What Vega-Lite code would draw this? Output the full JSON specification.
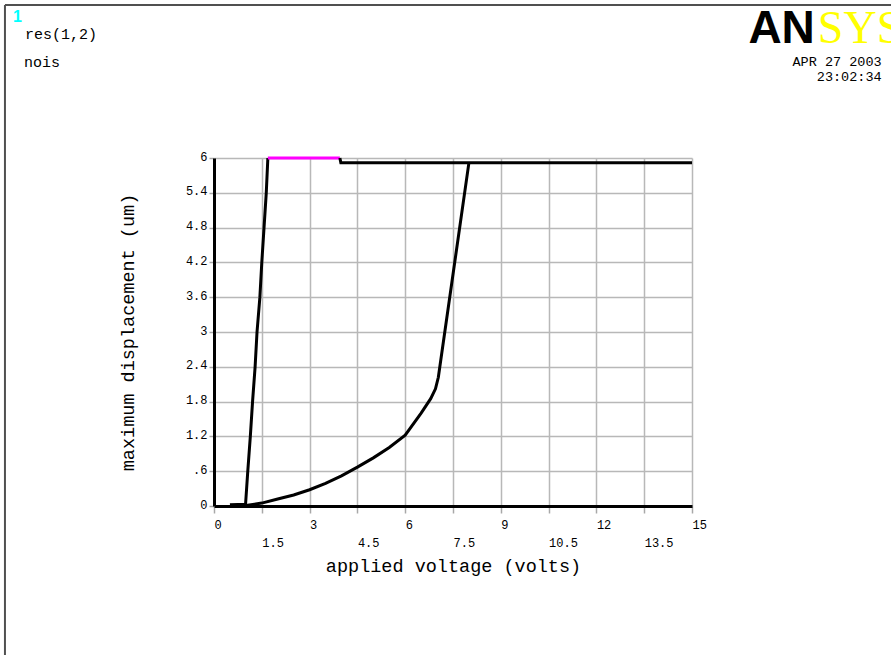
{
  "$schema": "https://vega.github.io/schema/vega-lite/v6.json",
  "width": 478,
  "height": 348,
  "autosize": {"type": "none"},
  "padding": {"left": 214, "top": 158, "right": 199, "bottom": 149},
  "background": "white",
  "config": {"view": {"stroke": null}, "font": "Liberation Mono"},
  "datasets": {
    "curves": [
      {"series": "s1", "i": 0, "v": 0.5, "d": 0.02},
      {"series": "s1", "i": 1, "v": 0.99, "d": 0.03},
      {"series": "s1", "i": 2, "v": 1.06, "d": 0.6},
      {"series": "s1", "i": 3, "v": 1.14, "d": 1.2},
      {"series": "s1", "i": 4, "v": 1.21, "d": 1.8},
      {"series": "s1", "i": 5, "v": 1.29, "d": 2.4},
      {"series": "s1", "i": 6, "v": 1.35, "d": 3.0},
      {"series": "s1", "i": 7, "v": 1.44, "d": 3.6},
      {"series": "s1", "i": 8, "v": 1.5, "d": 4.2},
      {"series": "s1", "i": 9, "v": 1.57, "d": 4.8},
      {"series": "s1", "i": 10, "v": 1.64, "d": 5.4},
      {"series": "s1", "i": 11, "v": 1.69, "d": 6.0},
      {"series": "s2", "i": 0, "v": 1.69, "d": 6.0},
      {"series": "s2", "i": 1, "v": 3.95, "d": 6.0},
      {"series": "s3", "i": 0, "v": 3.95, "d": 6.0},
      {"series": "s3", "i": 1, "v": 3.98, "d": 5.92},
      {"series": "s3", "i": 2, "v": 15, "d": 5.92},
      {"series": "s4", "i": 0, "v": 1.0, "d": 0.01},
      {"series": "s4", "i": 1, "v": 1.5, "d": 0.05},
      {"series": "s4", "i": 2, "v": 2.0, "d": 0.12},
      {"series": "s4", "i": 3, "v": 2.5, "d": 0.19},
      {"series": "s4", "i": 4, "v": 3.0, "d": 0.28},
      {"series": "s4", "i": 5, "v": 3.5, "d": 0.39},
      {"series": "s4", "i": 6, "v": 4.0, "d": 0.52},
      {"series": "s4", "i": 7, "v": 4.5, "d": 0.67},
      {"series": "s4", "i": 8, "v": 5.0, "d": 0.83},
      {"series": "s4", "i": 9, "v": 5.5, "d": 1.01},
      {"series": "s4", "i": 10, "v": 6.0, "d": 1.22},
      {"series": "s4", "i": 11, "v": 6.5, "d": 1.6},
      {"series": "s4", "i": 12, "v": 6.8, "d": 1.85},
      {"series": "s4", "i": 13, "v": 6.95, "d": 2.02},
      {"series": "s4", "i": 14, "v": 7.04, "d": 2.22},
      {"series": "s4", "i": 15, "v": 8.0, "d": 5.92}
    ],
    "one": [{}]
  },
  "layer": [
    {
      "data": {"name": "curves"},
      "mark": {"type": "line", "strokeWidth": 3, "clip": false},
      "encoding": {
        "x": {
          "field": "v",
          "type": "quantitative",
          "scale": {"domain": [0, 15], "nice": false, "zero": false},
          "axis": {
            "title": "applied voltage (volts)",
            "values": [0, 1.5, 3, 4.5, 6, 7.5, 9, 10.5, 12, 13.5, 15],
            "tickCount": 20,
            "labelExpr": "'' + datum.value",
            "labelAlign": "left",
            "labelBaseline": "top",
            "labelFontSize": 12,
            "labelColor": "black",
            "labelFlush": false,
            "labelOverlap": false,
            "labelPadding": {"condition": {"test": "datum.value % 3 !== 0", "value": 24}, "value": 6},
            "tickSize": 7,
            "tickColor": "#a8a8a8",
            "tickWidth": 1.5,
            "domainColor": "black",
            "domainWidth": 3,
            "grid": true,
            "gridColor": "#b8b8b8",
            "gridWidth": 1.5,
            "titleFontSize": 18.5,
            "titleFontWeight": "normal",
            "titleColor": "black",
            "titlePadding": 8
          }
        },
        "y": {
          "field": "d",
          "type": "quantitative",
          "scale": {"domain": [0, 6], "nice": false, "zero": false},
          "axis": {
            "title": "maximum displacement (um)",
            "values": [0, 0.6, 1.2, 1.8, 2.4, 3, 3.6, 4.2, 4.8, 5.4, 6],
            "tickCount": 20,
            "labelExpr": "datum.value === 0.6 ? '.6' : '' + datum.value",
            "labelFontSize": 12,
            "labelColor": "black",
            "labelPadding": 2,
            "labelOffset": -2,
            "labelFlush": false,
            "labelOverlap": false,
            "tickSize": 5,
            "tickColor": "#a8a8a8",
            "tickWidth": 1.5,
            "domainColor": "black",
            "domainWidth": 3,
            "grid": true,
            "gridColor": "#b8b8b8",
            "gridWidth": 1.5,
            "titleFontSize": 18.5,
            "titleFontWeight": "normal",
            "titleColor": "black",
            "titlePadding": 48
          }
        },
        "color": {
          "field": "series",
          "type": "nominal",
          "scale": {"domain": ["s1", "s2", "s3", "s4"], "range": ["black", "#ff00ff", "black", "black"]},
          "legend": null
        },
        "order": {"field": "i", "type": "quantitative"}
      }
    },
    {
      "data": {"name": "one"},
      "mark": {"type": "rule", "color": "#505050", "strokeWidth": 2, "clip": false},
      "encoding": {"x": {"datum": -6.56}, "y": {"datum": 8.64}, "y2": {"datum": -2.6}}
    },
    {
      "data": {"name": "one"},
      "mark": {"type": "rule", "color": "#505050", "strokeWidth": 2, "clip": false},
      "encoding": {"y": {"datum": 8.64}, "x": {"datum": -6.56}, "x2": {"datum": 21.3}}
    },
    {
      "data": {"name": "one"},
      "mark": {"type": "text", "align": "left", "baseline": "middle", "fontSize": 16, "fontWeight": "bold", "font": "Liberation Sans", "color": "#00ffff", "clip": false},
      "encoding": {"x": {"datum": -6.31}, "y": {"datum": 8.43}, "text": {"value": "1"}}
    },
    {
      "data": {"name": "one"},
      "mark": {"type": "text", "align": "left", "baseline": "middle", "fontSize": 15, "color": "black", "clip": false},
      "encoding": {"x": {"datum": -5.93}, "y": {"datum": 8.14}, "text": {"value": "res(1,2)"}}
    },
    {
      "data": {"name": "one"},
      "mark": {"type": "text", "align": "left", "baseline": "middle", "fontSize": 15, "color": "black", "clip": false},
      "encoding": {"x": {"datum": -5.96}, "y": {"datum": 7.65}, "text": {"value": "nois"}}
    },
    {
      "data": {"name": "one"},
      "mark": {"type": "text", "align": "right", "baseline": "middle", "fontSize": 13.5, "color": "black", "clip": false},
      "encoding": {"x": {"datum": 20.95}, "y": {"datum": 7.66}, "text": {"value": "APR 27 2003"}}
    },
    {
      "data": {"name": "one"},
      "mark": {"type": "text", "align": "right", "baseline": "middle", "fontSize": 13.5, "color": "black", "clip": false},
      "encoding": {"x": {"datum": 20.95}, "y": {"datum": 7.4}, "text": {"value": "23:02:34"}}
    },
    {
      "data": {"name": "one"},
      "mark": {"type": "text", "align": "left", "baseline": "alphabetic", "fontSize": 46, "font": "Liberation Sans", "fontWeight": "bold", "color": "black", "clip": false},
      "encoding": {"x": {"datum": 16.77}, "y": {"datum": 7.98}, "text": {"value": "AN"}}
    },
    {
      "data": {"name": "one"},
      "mark": {"type": "text", "align": "left", "baseline": "alphabetic", "fontSize": 46, "font": "Liberation Serif", "color": "#ffff00", "clip": false},
      "encoding": {"x": {"datum": 18.95}, "y": {"datum": 7.98}, "text": {"value": "SYS"}}
    }
  ]
}
